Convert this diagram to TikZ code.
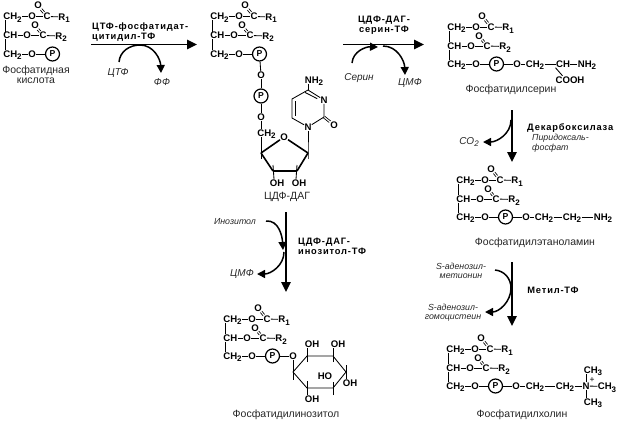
\documentclass[tikz,border=0pt]{standalone}
\usepackage{fontspec}
\setmainfont{Liberation Sans}
\newfontfamily\spaced[LetterSpace=9]{Liberation Sans}
\usetikzlibrary{arrows.meta}
\newcommand{\idx}[1]{\raisebox{-2.2pt}{\fontsize{8}{8}\selectfont #1}}
\newcommand{\dbl}[2]{%
  \draw[bond,line width=0.65pt,transform canvas={shift={(0.75pt,0.75pt)}}] (#1) -- (#2);
  \draw[bond,line width=0.65pt,transform canvas={shift={(-0.75pt,-0.75pt)}}] (#1) -- (#2);}
\tikzset{
  chem/.style={font=\fontsize{9.6}{10}\selectfont\bfseries, inner sep=0.15pt, text height=6.8pt, text depth=0pt, text=black},
  phos/.style={circle, draw, line width=1.2pt, minimum size=14pt, inner sep=0pt, font=\fontsize{8.6}{9}\selectfont\bfseries},
  bond/.style={line width=0.85pt, black},
  boldbond/.style={line width=1.6pt, black},
  lblname/.style={font=\fontsize{10.5}{11.5}\selectfont, text=black!85, inner sep=0pt, align=center},
  cof/.style={font=\fontsize{8.8}{9.6}\selectfont\itshape, text=black!85, inner sep=0pt, align=center},
  cofbig/.style={font=\fontsize{10}{11}\selectfont\itshape, text=black!85, inner sep=0pt, align=center},
  enz/.style={font=\spaced\fontsize{9.3}{10}\selectfont\bfseries, text=black, inner sep=0pt, align=left},
  mainarrow/.style={line width=1.7pt, -{Triangle[length=10pt,width=9.5pt]}},
  sidearrow/.style={line width=1.5pt, -{Triangle[length=8pt,width=8pt]}},
}
% name, left x, three row ys
\newcommand{\lipid}[5]{%
  \node[chem,anchor=west] (#1a) at (#2,#3) {CH\idx{2}};
  \node[chem,anchor=west] (#1b) at (#2,#4) {CH};
  \node[chem,anchor=west] (#1c) at (#2,#5) {CH\idx{2}};
  \node[chem] (#1oa) at (#2+29,#3) {O};
  \node[chem] (#1ca) at (#2+44,#3) {C};
  \node[chem] (#1ota) at (#2+35,#3-11) {O};
  \node[chem,anchor=west] (#1ra) at (#2+55,#3+0.5) {R\idx{1}};
  \node[chem] (#1ob) at (#2+24,#4) {O};
  \node[chem] (#1cb) at (#2+40,#4) {C};
  \node[chem] (#1otb) at (#2+32,#4-10) {O};
  \node[chem,anchor=west] (#1rb) at (#2+52,#4+0.5) {R\idx{2}};
  \node[chem] (#1oc) at (#2+29,#5) {O};
  \node[phos] (#1p) at (#2+49.5,#5) {P};
  \draw[bond] ([xshift=2.8pt]#1a.south west) -- ([xshift=2.8pt]#1b.north west);
  \draw[bond] ([xshift=2.8pt]#1b.south west) -- ([xshift=2.8pt]#1c.north west);
  \draw[bond] (#1a) -- (#1oa);
  \draw[bond] (#1oa) -- (#1ca);
  \draw[bond] (#1ca) -- (#1ra);
  \dbl{#1ca}{#1ota}
  \draw[bond] (#1b) -- (#1ob);
  \draw[bond] (#1ob) -- (#1cb);
  \draw[bond] (#1cb) -- (#1rb);
  \dbl{#1cb}{#1otb}
  \draw[bond] (#1c) -- (#1oc);
  \draw[bond] (#1oc) -- (#1p);
}
\begin{document}
\begin{tikzpicture}[x=1pt,y=-1pt]
\useasboundingbox (0,0) rectangle (619,424);
% ---------- phosphatidic acid
\lipid{pa}{3}{16.5}{35.5}{54}
\node[lblname] (paname) at (36,75) {Фосфатидная\\[-1.5pt]кислота};
% ---------- arrow 1
\coordinate (a1s) at (91,44.5);
\coordinate (a1e) at (197,44.5);
\coordinate (a1i) at (119,62);
\coordinate (a1t) at (140,45);
\coordinate (a1o) at (161,73);
\draw[mainarrow] (a1s) -- (a1e);
\draw[sidearrow] (a1i) to[out=85,in=180] (a1t) to[out=0,in=92] (a1o);
\node[enz,anchor=west] (e1) at (92,32) {ЦТФ-фосфатидат-\\цитидил-ТФ};
\node[cofbig] (ctp) at (118,73) {ЦТФ};
\node[cofbig] (ff) at (162,82) {ФФ};
% ---------- CDP-DAG
\lipid{cd}{210}{16.5}{35.5}{54}
\node[chem] (cdo1) at (261,75) {O};
\node[phos] (cdp2) at (261,96) {P};
\node[chem] (cdo2) at (261,117) {O};
\node[chem,anchor=west] (cdch) at (257,133) {CH\idx{2}};
\node[chem] (cdor) at (284,137) {O};
\coordinate (r1) at (308,153);
\coordinate (r2) at (297,171);
\coordinate (r3) at (273,171);
\coordinate (r4) at (261,153);
\coordinate (r4d) at (261,159);
\coordinate (r2d) at (297,165);
\coordinate (r3d) at (273,165);
\coordinate (r1d) at (308,159);
\node[chem] (oh3) at (277,183) {OH};
\node[chem] (oh2) at (299,183) {OH};
\node[chem] (cn1) at (308,127) {N};
\coordinate (c2) at (324,117);
\node[chem] (cn3) at (324,100) {N};
\coordinate (c4) at (308,90);
\coordinate (c5) at (292,99);
\coordinate (c6) at (292,118);
\coordinate (c5i) at (295,101);
\coordinate (c6i) at (295,116);
\node[chem] (co) at (334,125) {O};
\node[chem] (cnh) at (314,80) {NH\idx{2}};
\draw[bond] (cdp) -- (cdo1);
\draw[bond] (cdo1) -- (cdp2);
\draw[bond] (cdp2) -- (cdo2);
\draw[bond] (cdo2) -- ([xshift=4pt]cdch.north west);
\draw[bond] ([xshift=4pt]cdch.south west) -- (r4d);
\draw[boldbond] (cdor) -- (r4);
\draw[boldbond] (cdor) -- (r1);
\draw[boldbond] (r1) -- (r2);
\draw[boldbond,line width=2.2pt] (r2) -- (r3);
\draw[boldbond] (r3) -- (r4);
\draw[bond] (r1d) -- (r1) -- (cn1);
\draw[bond] (r2d) -- ([xshift=-3pt]oh2.north);
\draw[bond] (r3d) -- ([xshift=-3pt]oh3.north);
\draw[bond] (cn1) -- (c2) -- (cn3);
\draw[bond] (cn3) -- (c4) -- (c5) -- (c6) -- (cn1);
\draw[bond] (c5i) -- (c6i);
\draw[bond] ([shift={(-3,2.4)}]cn3.north west) -- ([shift={(-3,2.4)}]c4);
\dbl{c2}{co}
\draw[bond] (c4) -- ([xshift=-6pt]cnh.south);
\node[lblname] (cdname) at (287,197) {ЦДФ-ДАГ};
% ---------- arrow 2
\coordinate (a2s) at (343,44.5);
\coordinate (a2e) at (424,44.5);
\coordinate (a2i) at (352,63);
\coordinate (a2m) at (378,47);
\coordinate (a2n) at (383,46);
\coordinate (a2o) at (405,75);
\draw[mainarrow] (a2s) -- (a2e);
\draw[sidearrow] (a2i) to[out=85,in=178] (a2m);
\draw[sidearrow] (a2n) to[out=0,in=92] (a2o);
\node[enz,align=center] (e2) at (384,25) {ЦДФ-ДАГ-\\серин-ТФ};
\node[cofbig] (ser) at (359,78) {Серин};
\node[cofbig] (cmp1) at (410,83) {ЦМФ};
% ---------- phosphatidylserine
\lipid{ps}{447}{27}{46}{64}
\node[chem] (pso) at (517,64) {O};
\node[chem] (psch) at (535,64) {CH\idx{2}};
\node[chem] (psc) at (563,64) {CH};
\node[chem] (psn) at (587,64) {NH\idx{2}};
\node[chem] (psco) at (570,80) {COOH};
\draw[bond] (psp) -- (pso);
\draw[bond] (pso) -- (psch);
\draw[bond] (psch) -- (psc);
\draw[bond] (psc) -- (psn);
\draw[bond] ([xshift=-7.5pt]psc.south) -- ([xshift=-7.5pt,yshift=0.5pt]psco.north);
\node[lblname] (psname) at (511,90) {Фосфатидилсерин};
% ---------- arrow 3
\coordinate (a3s) at (512,110);
\coordinate (a3e) at (512,162);
\coordinate (a3c) at (511,120);
\coordinate (a3o) at (483,142);
\draw[mainarrow] (a3s) -- (a3e);
\draw[sidearrow] (a3c) to[out=-90,in=0] (a3o);
\node[cofbig] (co2) at (469,142) {CO\idx{2}};
\node[enz,anchor=west] (e3) at (527,128) {Декарбоксилаза};
\node[cof,anchor=west,align=left] (plp) at (532,143.5) {Пиридоксаль-\\фосфат};
% ---------- phosphatidylethanolamine
\lipid{pe}{456}{180}{199}{217}
\node[chem] (peo) at (526,217) {O};
\node[chem] (pech) at (544,217) {CH\idx{2}};
\node[chem] (pech2) at (572,217) {CH\idx{2}};
\node[chem] (pen) at (603,217) {NH\idx{2}};
\draw[bond] (pep) -- (peo);
\draw[bond] (peo) -- (pech);
\draw[bond] (pech) -- (pech2);
\draw[bond] (pech2) -- (pen);
\node[lblname] (pename) at (535,243) {Фосфатидилэтаноламин};
% ---------- arrow 4
\coordinate (a4s) at (512,262);
\coordinate (a4e) at (512,326);
\coordinate (a4i) at (495,270);
\coordinate (a4m) at (511,288);
\coordinate (a4o) at (485,312);
\draw[mainarrow] (a4s) -- (a4e);
\draw[sidearrow] (a4i) to[out=-5,in=90] (a4m) to[out=-90,in=0] (a4o);
\node[cof] (sam) at (461,271) {\textit{S}-аденозил-\\метионин};
\node[cof] (sah) at (453,312.5) {\textit{S}-аденозил-\\гомоцистеин};
\node[enz] (e4) at (553,290) {Метил-ТФ};
% ---------- phosphatidylcholine
\lipid{pc}{446}{349}{368}{386}
\node[chem] (pco) at (516,386) {O};
\node[chem] (pcch) at (535,386) {CH\idx{2}};
\node[chem] (pcch2) at (565,386) {CH\idx{2}};
\node[chem] (pcn) at (586,386) {N};
\node[chem] (pcm1) at (593,370) {CH\idx{3}};
\node[chem] (pcm2) at (607,386.5) {CH\idx{3}};
\node[chem] (pcm3) at (593,402) {CH\idx{3}};
\node[font=\fontsize{8.5}{9}\selectfont, inner sep=0pt] (pcplus) at (592,380) {+};
\draw[bond] (pcp) -- (pco);
\draw[bond] (pco) -- (pcch);
\draw[bond] (pcch) -- (pcch2);
\draw[bond] (pcch2) -- (pcn);
\draw[bond] (pcn) -- (pcm2);
\draw[bond] (pcn) -- ([xshift=-7pt]pcm1.south);
\draw[bond] (pcn) -- ([xshift=-7pt]pcm3.north);
\node[lblname] (pcname) at (522,415) {Фосфатидилхолин};
% ---------- arrow 5
\coordinate (a5s) at (286,212);
\coordinate (a5e) at (286,292);
\coordinate (a5i) at (266,221);
\coordinate (a5m) at (283,250);
\coordinate (a5n) at (284,252);
\coordinate (a5o) at (257,274);
\draw[mainarrow] (a5s) -- (a5e);
\draw[sidearrow] (a5i) to[out=5,in=93] (a5m);
\draw[sidearrow] (a5n) to[out=-90,in=0] (a5o);
\node[cof] (ino) at (235,222) {Инозитол};
\node[cofbig] (cmp2) at (242,274) {ЦМФ};
\node[enz,anchor=west] (e5) at (298,246) {ЦДФ-ДАГ-\\инозитол-ТФ};
% ---------- phosphatidylinositol
\lipid{pi}{223}{319}{338}{356}
\node[chem] (pio) at (293,356) {O};
\coordinate (i1) at (293,372);
\coordinate (i2) at (307,356);
\coordinate (i3) at (333,356);
\coordinate (i4) at (346,372);
\coordinate (i5) at (333,388);
\coordinate (i6) at (307,388);
\coordinate (i1d) at (293,380);
\coordinate (i2d) at (307,362);
\coordinate (i3d) at (333,362);
\coordinate (i4u) at (346,365);
\coordinate (i5d) at (333,395);
\coordinate (i5u) at (333,382);
\coordinate (i6u) at (307,381);
\node[chem] (oha) at (312,344) {OH};
\node[chem] (ohb) at (338,344) {OH};
\node[chem] (ohc) at (350,383) {OH};
\node[chem] (ohd) at (325,376) {HO};
\node[chem] (ohe) at (312,399) {OH};
\draw[bond] (pip) -- (pio);
\draw[bond] (pio) -- (i1d);
\draw[bond] (i1) -- (i2) -- (i3) -- (i4) -- (i5) -- (i6) -- cycle;
\draw[bond] (i2d) -- ([xshift=-5pt]oha.south);
\draw[bond] (i3d) -- ([xshift=-5pt]ohb.south);
\draw[bond] (i4u) -- ([xshift=-4pt]ohc.north);
\draw[bond] (i5d) -- (i5u);
\draw[bond] (i6u) -- ([xshift=-5pt]ohe.north);
\node[lblname] (piname) at (286,415) {Фосфатидилинозитол};
\end{tikzpicture}
\end{document}
